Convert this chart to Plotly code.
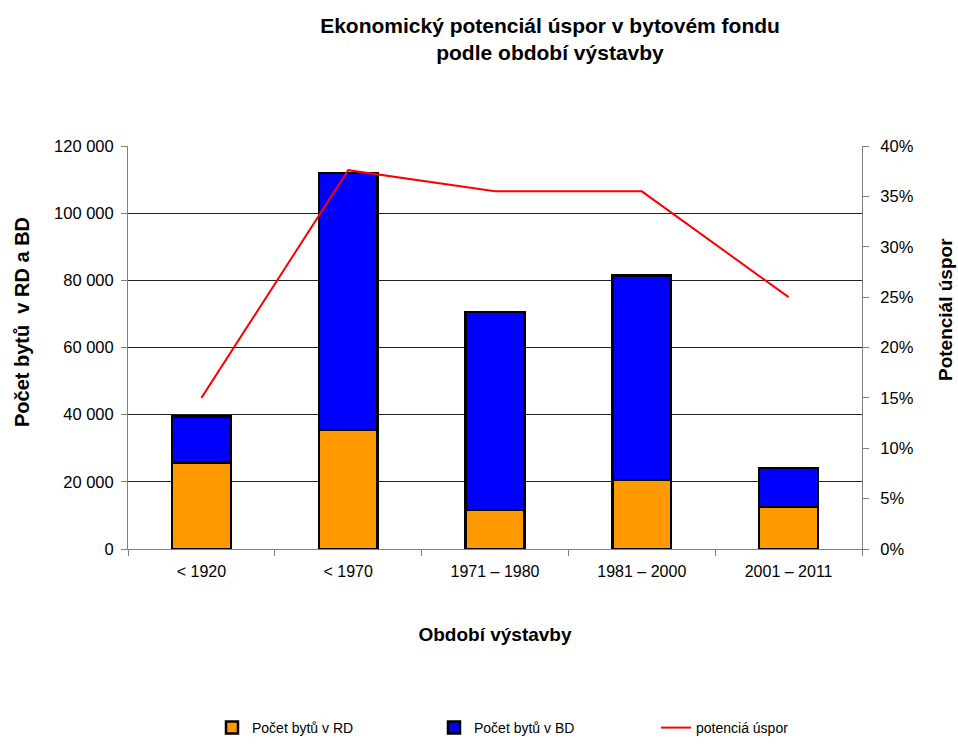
import plotly.graph_objects as go

# Construction periods
periods = ["< 1920", "< 1970", "1971 – 1980", "1981 – 2000", "2001 – 2011"]

# Dwellings in family houses (RD) and apartment buildings (BD)
byty_rd = [25800, 35400, 11600, 20500, 12500]
byty_bd = [13700, 76500, 58900, 61000, 11600]

# Savings potential in percent
potencial = [15.0, 37.6, 35.5, 35.5, 25.0]

left_ticks = [0, 20000, 40000, 60000, 80000, 100000, 120000]
right_ticks = [0, 5, 10, 15, 20, 25, 30, 35, 40]
right_labels = [f"{v}%" for v in right_ticks]

FONT = "Liberation Sans, Arial, sans-serif"

fig = go.Figure()

fig.add_trace(go.Bar(
    x=periods, y=byty_rd, name="Počet bytů v RD",
    marker=dict(color="#FF9900", line=dict(color="black", width=2.5)),
    width=0.4,
))
fig.add_trace(go.Bar(
    x=periods, y=byty_bd, name="Počet bytů v BD",
    marker=dict(color="#0000FF", line=dict(color="black", width=2.5)),
    width=0.4,
))
fig.add_trace(go.Scatter(
    x=periods, y=potencial, name="potenciá úspor", yaxis="y2",
    mode="lines", line=dict(color="#FF0000", width=2),
))

fig.update_layout(
    width=958, height=744,
    barmode="stack",
    plot_bgcolor="white", paper_bgcolor="white",
    separators=", ",
    font=dict(family=FONT, size=15, color="black"),
    margin=dict(l=128, r=96, t=146, b=195, autoexpand=False),
    title=dict(
        text="<b>Ekonomický potenciál úspor v bytovém fondu<br>podle období výstavby</b>",
        x=550 / 958, xanchor="center", xref="container",
        y=1 - 33 / 744, yanchor="middle", yref="container",
        font=dict(size=21, family=FONT),
    ),
    xaxis=dict(
        type="category", automargin=False,
        showline=True, linecolor="#808080", linewidth=1,
        ticks="outside", tickson="boundaries", ticklen=6, tickcolor="#808080",
        ticklabelstandoff=8,
        showgrid=False,
        title=dict(text="<b>Období výstavby</b>", font=dict(size=19), standoff=48),
        tickfont=dict(size=16),
    ),
    yaxis=dict(
        range=[0, 120000], tickvals=left_ticks, tickformat=",d",
        automargin=False,
        showline=True, linecolor="#808080", linewidth=1,
        ticks="outside", ticklen=6, tickcolor="#808080",
        ticklabelstandoff=4,
        showgrid=False, zeroline=False,
        tickfont=dict(size=16.5),
    ),
    # gridlines for the count axis, without a line at the top edge
    yaxis3=dict(
        range=[0, 120000], tickvals=left_ticks[1:-1],
        overlaying="y", showticklabels=False, ticks="",
        showgrid=True, gridcolor="#222222", gridwidth=1,
        zeroline=False, showline=False,
    ),
    yaxis2=dict(
        range=[0, 40], tickvals=right_ticks, ticktext=right_labels,
        overlaying="y", side="right", automargin=False,
        showline=True, linecolor="#808080", linewidth=1,
        ticks="outside", ticklen=6, tickcolor="#808080",
        ticklabelstandoff=8,
        showgrid=False, zeroline=False,
        tickfont=dict(size=16.5),
    ),
    legend=dict(
        orientation="h",
        x=(212 - 128) / 734, xanchor="left",
        yref="container", y=0, yanchor="bottom",
        font=dict(size=14),
        entrywidth=177,
        traceorder="normal",
    ),
    showlegend=True,
    annotations=[
        dict(
            text="<b>Počet bytů  v RD a BD</b>", textangle=-90,
            xref="paper", yref="paper",
            x=(22 - 128) / 734, y=(549 - 322) / 403,
            xanchor="center", yanchor="middle", showarrow=False,
            font=dict(size=20),
        ),
        dict(
            text="<b>Potenciál úspor</b>", textangle=-90,
            xref="paper", yref="paper",
            x=(945 - 128) / 734, y=(549 - 310) / 403,
            xanchor="center", yanchor="middle", showarrow=False,
            font=dict(size=19),
        ),
    ],
)

# invisible trace so the gridline axis gets drawn
fig.add_trace(go.Scatter(
    x=[periods[0]], y=[0], yaxis="y3", mode="markers",
    marker=dict(opacity=0), showlegend=False, hoverinfo="skip",
))

fig.write_html("out.html")
